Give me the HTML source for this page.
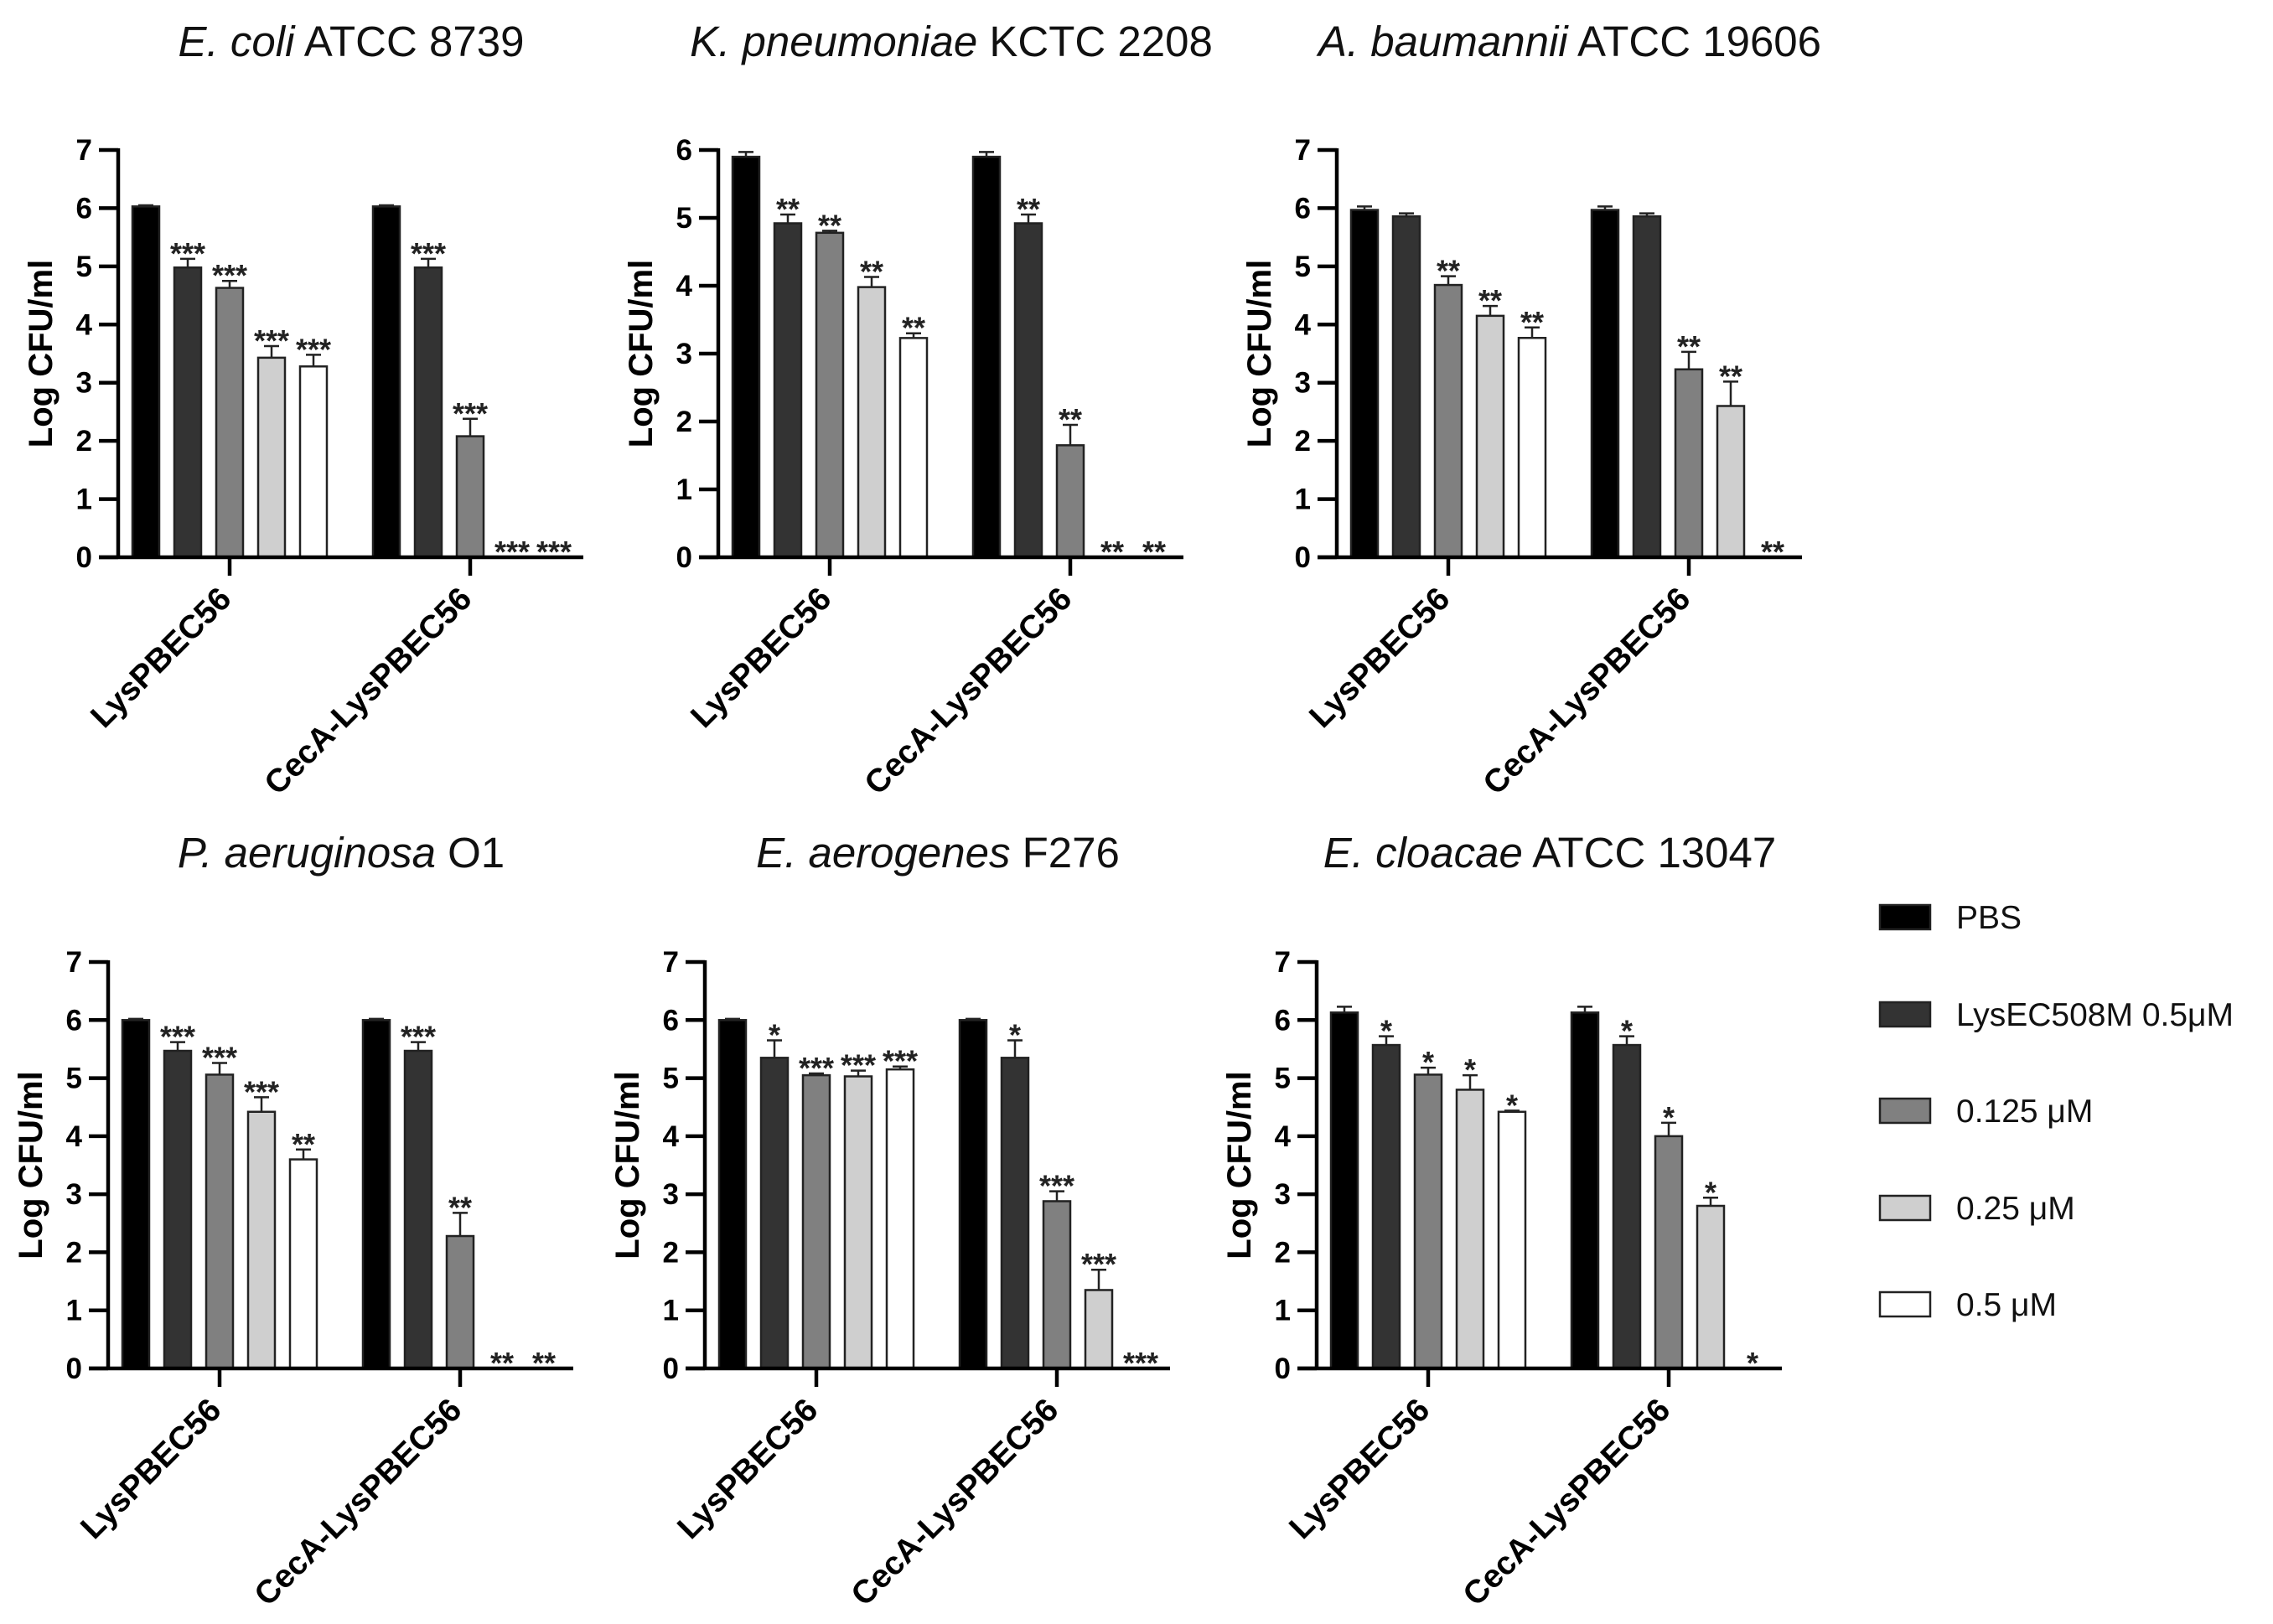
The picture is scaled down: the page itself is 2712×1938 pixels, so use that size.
<!DOCTYPE html>
<html><head><meta charset="utf-8"><style>
html,body{margin:0;padding:0;background:#fff;}
svg{display:block;font-family:"Liberation Sans",Arial,sans-serif;}
</style></head><body>
<svg id="fig" width="2712" height="1938" viewBox="0 0 2712 1938" xmlns="http://www.w3.org/2000/svg"></svg>
<script>
const categories = ["LysPBEC56", "CecA-LysPBEC56"];
const seriesNames = ["PBS", "LysEC508M 0.5\u03bcM", "0.125 \u03bcM", "0.25 \u03bcM", "0.5 \u03bcM"];
const seriesFills = ["#000000", "#333333", "#808080", "#cfcfcf", "#ffffff"];
const titlesItalic = ["E. coli", "K. pneumoniae", "A. baumannii", "P. aeruginosa", "E. aerogenes", "E. cloacae"];
const titlesPlain = [" ATCC 8739", " KCTC 2208", " ATCC 19606", " O1", " F276", " ATCC 13047"];
const yMax = [7, 6, 7, 7, 7, 7];
const yTicks7 = [0,1,2,3,4,5,6,7];
const yTicks6 = [0,1,2,3,4,5,6];
const ecoliVals = [[6.03,4.98,4.63,3.43,3.28],[6.03,4.98,2.08,0,0]];
const ecoliErr  = [[0.02,0.15,0.12,0.2,0.2],[0.02,0.15,0.3,0,0]];
const ecoliSig  = [["","***","***","***","***"],["","***","***","***","***"]];
const kpnVals = [[5.9,4.92,4.78,3.98,3.23],[5.9,4.92,1.65,0,0]];
const kpnErr  = [[0.07,0.13,0.03,0.15,0.07],[0.07,0.13,0.3,0,0]];
const kpnSig  = [["","**","**","**","**"],["","**","**","**","**"]];
const abaVals = [[5.97,5.86,4.68,4.15,3.77],[5.97,5.86,3.23,2.6,0]];
const abaErr  = [[0.06,0.05,0.15,0.17,0.18],[0.06,0.05,0.3,0.42,0]];
const abaSig  = [["","","**","**","**"],["","","**","**","**"]];
const paeVals = [[6.0,5.47,5.06,4.42,3.6],[6.0,5.47,2.28,0,0]];
const paeErr  = [[0.02,0.15,0.2,0.25,0.17],[0.02,0.15,0.4,0,0]];
const paeSig  = [["","***","***","***","**"],["","***","**","**","**"]];
const eaeVals = [[6.0,5.35,5.05,5.03,5.15],[6.0,5.35,2.88,1.35,0]];
const eaeErr  = [[0.02,0.3,0.03,0.1,0.05],[0.02,0.3,0.17,0.35,0]];
const eaeSig  = [["","*","***","***","***"],["","*","***","***","***"]];
const eclVals = [[6.13,5.57,5.06,4.8,4.42],[6.13,5.57,4.0,2.8,0]];
const eclErr  = [[0.1,0.15,0.12,0.25,0.02],[0.1,0.15,0.23,0.14,0]];
const eclSig  = [["","*","*","*","*"],["","*","*","*","*"]];
const allVals = [ecoliVals,kpnVals,abaVals,paeVals,eaeVals,eclVals];
const allErr = [ecoliErr,kpnErr,abaErr,paeErr,eaeErr,eclErr];
const allSig = [ecoliSig,kpnSig,abaSig,paeSig,eaeSig,eclSig];

const NS = "http://www.w3.org/2000/svg";
const svg = document.getElementById("fig");
function mk(tag, attrs, parent){const e=document.createElementNS(NS,tag);for(const k in attrs)e.setAttribute(k,attrs[k]);(parent||svg).appendChild(e);return e;}

const layout = [
  {ax:141,y0:665,yt:179},{ax:857,y0:665,yt:179},{ax:1595,y0:665,yt:179},
  {ax:129,y0:1633,yt:1148},{ax:841,y0:1633,yt:1148},{ax:1571,y0:1633,yt:1148}
];
const BW=32, PITCH=50, GOFF=287, FIRST=17;

for(let p=0;p<6;p++){
  const L=layout[p];
  const g=mk("g",{});
  
  
  const yScale=v=>L.y0-(v/yMax[p])*(L.y0-L.yt);
  const xBar=(gi,si)=>L.ax+FIRST+gi*GOFF+si*PITCH;
  const t=mk("text",{x:L.ax+278,y:L.y0-598,"text-anchor":"middle","font-size":51,fill:"#111"},g);
  
  
  const ti=mk("tspan",{"font-style":"italic"},t); ti.textContent=titlesItalic[p];
  const tp=mk("tspan",{},t); tp.textContent=titlesPlain[p];
  for(let gi=0;gi<2;gi++){
    for(let si=0;si<5;si++){
      const v=allVals[p][gi][si], e=allErr[p][gi][si], s=allSig[p][gi][si];
      const x=xBar(gi,si), cx=x+BW/2;
      if(v>0){
        const yTop=yScale(v+e);
        const el=mk("line",{x1:cx,x2:cx,y1:yScale(v),y2:yTop,stroke:"#222","stroke-width":2.5},g);
        
        
        const cap=mk("line",{x1:cx-9,x2:cx+9,y1:yTop,y2:yTop,stroke:"#222","stroke-width":2.5},g);
        
        
        const r=mk("rect",{x:x,y:yScale(v),width:BW,height:L.y0-yScale(v),fill:seriesFills[si],stroke:"#222","stroke-width":2.5},g);
        
        
      }
      if(s){
        const st=mk("text",{x:cx,y:yScale(v+e)+6,"text-anchor":"middle","font-size":36,"font-weight":"bold",fill:"#222"},g);
        
        
        st.textContent=s;
      }
    }
  }
  const ya=mk("line",{x1:L.ax,x2:L.ax,y1:L.yt-2,y2:L.y0+2,stroke:"#000","stroke-width":4.5},g);
  
  
  const xa=mk("line",{x1:L.ax-23,x2:L.ax+555,y1:L.y0,y2:L.y0,stroke:"#000","stroke-width":4.5},g);
  
  
  const ticks = yMax[p]===6?yTicks6:yTicks7;
  ticks.forEach(tv=>{
    const y=yScale(tv);
    const tk=mk("line",{x1:L.ax-23,x2:L.ax,y1:y,y2:y,stroke:"#000","stroke-width":4.5},g);
    
    
    const tl=mk("text",{x:L.ax-31,y:y+12,"text-anchor":"end","font-size":35,"font-weight":"bold",fill:"#000"},g);
    
    
    tl.textContent=tv;
  });
  const yt=mk("text",{transform:`translate(${L.ax-79},${(L.y0+L.yt)/2}) rotate(-90)`,"text-anchor":"middle","font-size":40,"font-weight":"bold",fill:"#000"},g);
  
  
  yt.textContent="Log CFU/ml";
  for(let gi=0;gi<2;gi++){
    const tx=xBar(gi,0)+(4*PITCH+BW)/2;
    const tk=mk("line",{x1:tx,x2:tx,y1:L.y0,y2:L.y0+22,stroke:"#000","stroke-width":4.5},g);
    
    
    const cl=mk("text",{transform:`translate(${tx+4},${L.y0+52}) rotate(-45)`,"text-anchor":"end","font-size":39,"font-weight":"bold",fill:"#000"},g);
    
    
    cl.textContent=categories[gi];
  }
}
const legendY=[1094,1210,1325,1441,1556];
for(let i=0;i<5;i++){
  const r=mk("rect",{x:2243,y:legendY[i]-14,width:60,height:29,fill:seriesFills[i],stroke:"#222","stroke-width":2.5});
  
  
  const t=mk("text",{x:2334,y:legendY[i]+14,"font-size":39,fill:"#111"});
  
  
  t.textContent=seriesNames[i];
}
</script>
</body></html>
